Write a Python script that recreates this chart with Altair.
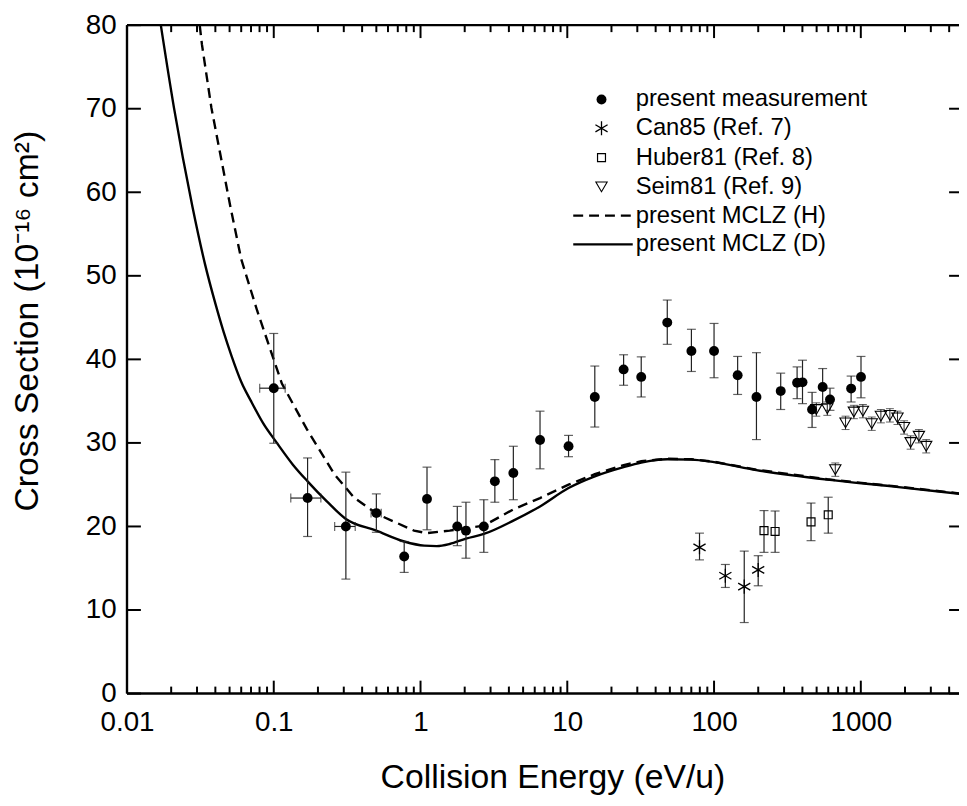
import altair as alt
import pandas as pd

# ---------------- data ----------------
# present measurement
meas_E  = [0.1, 0.170, 0.310, 0.5, 0.774, 1.107, 1.78, 2.04, 2.70, 3.21, 4.29, 6.52, 10.2, 15.4,
           24.2, 31.9, 48.0, 70.1, 100, 144.8, 194.5, 284.6, 368, 400.6, 465.5, 549.5, 616.6, 859, 1003]
meas_v  = [36.55, 23.4, 20.0, 21.6, 16.4, 23.3, 20.0, 19.5, 20.0, 25.4, 26.4, 30.35, 29.6, 35.5,
           38.8, 37.9, 44.4, 41.0, 41.0, 38.1, 35.5, 36.2, 37.2, 37.25, 34.0, 36.7, 35.2, 36.5, 37.9]
meas_lo = [29.96, 18.8, 13.7, 19.3, 14.5, 19.6, 17.7, 16.2, 16.9, 22.9, 23.2, 26.9, 28.35, 31.9,
           36.9, 35.5, 41.8, 38.55, 37.8, 35.8, 30.4, 34.0, 35.3, 34.7, 31.85, 34.6, 33.9, 34.9, 35.4]
meas_hi = [43.1, 28.2, 26.5, 23.9, 18.2, 27.1, 22.4, 22.9, 23.2, 28.0, 29.6, 33.8, 30.9, 39.2,
           40.55, 40.3, 47.1, 43.6, 44.3, 40.35, 40.8, 38.35, 39.1, 39.9, 36.05, 38.9, 36.55, 38.0, 40.35]
# horizontal error bars of the low-energy points
xerr_v  = [36.55, 23.4, 20.0, 21.6]
xerr_lo = [0.0802, 0.1306, 0.260, 0.46]
xerr_hi = [0.1196, 0.2094, 0.359, 0.54]

# Can85 (Ref. 7)
can_E  = [79.6, 119.4, 160.6, 199.9]
can_v  = [17.5, 14.1, 12.8, 14.8]
can_lo = [16.0, 12.7, 8.5, 12.9]
can_hi = [19.2, 15.45, 17.05, 16.5]

# Huber81 (Ref. 8)
hub_E  = [219, 260.6, 458, 599.8]
hub_v  = [19.5, 19.4, 20.55, 21.4]
hub_lo = [16.9, 16.9, 18.3, 19.2]
hub_hi = [21.9, 21.85, 22.8, 23.5]

# Seim81 (Ref. 9)
seim_E  = [497.6, 591, 670, 787, 897, 1033, 1187, 1370, 1578, 1778, 1972, 2185, 2488, 2790]
seim_v  = [34.0, 34.1, 26.8, 32.4, 33.7, 33.8, 32.3, 33.2, 33.3, 33.0, 31.85, 30.05, 30.8, 29.6]
seim_lo = [33.2, 33.3, 26.0, 31.6, 32.9, 33.0, 31.5, 32.4, 32.5, 32.2, 31.05, 29.25, 30.0, 28.8]
seim_hi = [34.8, 34.9, 27.6, 33.2, 34.5, 34.6, 33.1, 34.0, 34.1, 33.8, 32.65, 30.85, 31.6, 30.4]

# present MCLZ (D) - solid
d_E = [0.0170, 0.0209, 0.0279, 0.0340, 0.0402, 0.0457, 0.0516, 0.0601, 0.070, 0.085, 0.105, 0.135,
       0.17, 0.23, 0.31, 0.5, 0.774, 1.06, 1.29, 1.58, 2.04, 2.70, 4.29, 6.52, 10.2, 15.4, 24.2,
       31.9, 48, 70, 100, 194, 591, 1626, 5000]
d_v = [80.0, 70.1, 58.3, 51.4, 46.55, 43.2, 40.4, 37.3, 35.0, 32.3, 30.0, 27.4,
       25.4, 23.0, 20.9, 19.5, 18.2, 17.7, 17.65, 17.9, 18.55, 19.1, 20.7, 22.4, 24.6, 26.0, 27.1,
       27.65, 28.05, 28.0, 27.7, 26.75, 25.6, 24.8, 23.85]

# present MCLZ (H) - dashed
h_E = [0.0313, 0.0324, 0.0376, 0.0506, 0.060, 0.0770, 0.0922, 0.1136, 0.168, 0.260, 0.355, 0.511, 0.904,
       1.1, 1.58, 2.04, 2.70, 4.29, 6.52, 10.2, 15.4, 24.2, 31.9, 48, 70, 100, 194, 591, 1626, 5000]
h_v = [80.0, 77.7, 70.1, 58.3, 52.0, 45.85, 41.8, 37.1, 31.65, 26.2, 23.4, 21.45, 19.5,
       19.2, 19.5, 19.8, 20.1, 22.05, 23.4, 25.0, 26.25, 27.35, 27.8, 28.1, 28.05, 27.75, 26.8, 25.65, 24.85, 23.9]

x_major = [0.01, 0.1, 1, 10, 100, 1000]
x_minor = [m * 10 ** k for k in range(-2, 4) for m in range(2, 10) if m * 10 ** k < 5000]
y_major = [0, 10, 20, 30, 40, 50, 60, 70, 80]

legend_labels = ["present measurement", "Can85 (Ref. 7)", "Huber81 (Ref. 8)",
                 "Seim81 (Ref. 9)", "present MCLZ (H)", "present MCLZ (D)"]

# ---------------- chart ----------------
TOP = 14
W, H = 839, 674
FONT = "Liberation Sans"
INK = "black"
EB = "#222222"

xs = alt.Scale(type="log", domain=[0.01, 4667], nice=False)
ys = alt.Scale(domain=[0, 80], nice=False, zero=False)

XAX = alt.Axis(values=x_major, format="~g", ticks=False, domain=False, grid=False,
               labelFontSize=28, labelPadding=15, labelFlush=False, labelOverlap=False,
               labelFont=FONT, labelColor=INK,
               title="Collision Energy (eV/u)", titleFontSize=34, titlePadding=25,
               titleX=429, titleAlign="center", titleAnchor="start",
               titleFont=FONT, titleColor=INK, titleFontWeight="normal")
YAX = alt.Axis(values=y_major, ticks=False, domain=False, grid=False,
               labelFontSize=28, labelPadding=11, labelFlush=False, labelOverlap=False,
               labelFont=FONT, labelColor=INK,
               title="Cross Section (10⁻¹⁶ cm²)", titleFontSize=34,
               titleX=-83, titleY=320 - 8 - TOP, titleAlign="center", titleBaseline="bottom",
               titleAngle=270,
               titleFont=FONT, titleColor=INK, titleFontWeight="normal")

meas = pd.DataFrame({"E": meas_E, "v": meas_v, "lo": meas_lo, "hi": meas_hi})
xerr = pd.DataFrame({"v": xerr_v, "xlo": xerr_lo, "xhi": xerr_hi})
can = pd.DataFrame({"E": can_E, "v": can_v, "lo": can_lo, "hi": can_hi})
hub = pd.DataFrame({"E": hub_E, "v": hub_v, "lo": hub_lo, "hi": hub_hi})
seim = pd.DataFrame({"E": seim_E, "v": seim_v, "lo": seim_lo, "hi": seim_hi})
curve_d = pd.DataFrame({"E": d_E, "v": d_v})
curve_h = pd.DataFrame({"E": h_E, "v": h_v})

def X(field):
    return alt.X(f"{field}:Q", scale=xs, axis=XAX)

def Y(field):
    return alt.Y(f"{field}:Q", scale=ys, axis=YAX)

solid = alt.Chart(curve_d).mark_line(clip=True, color=INK, strokeWidth=2.4,
                                     interpolate="monotone").encode(x=X("E"), y=Y("v"))
dashed = alt.Chart(curve_h).mark_line(clip=True, color=INK, strokeWidth=2.4,
                                      strokeDash=[10, 6]).encode(x=X("E"), y=Y("v"))

def errorbars(df, cap=9, width=1.2):
    bar = alt.Chart(df).mark_rule(color=EB, strokeWidth=width).encode(x=X("E"), y=Y("lo"), y2="hi")
    c1 = alt.Chart(df).mark_tick(orient="horizontal", size=cap, thickness=width, color=EB).encode(
        x=X("E"), y=Y("lo"))
    c2 = alt.Chart(df).mark_tick(orient="horizontal", size=cap, thickness=width, color=EB).encode(
        x=X("E"), y=Y("hi"))
    return [bar, c1, c2]

xbar = alt.Chart(xerr).mark_rule(color=EB, strokeWidth=1.2).encode(x=X("xlo"), x2="xhi", y=Y("v"))
xc1 = alt.Chart(xerr).mark_tick(orient="vertical", size=9, thickness=1.2, color=EB).encode(
    x=X("xlo"), y=Y("v"))
xc2 = alt.Chart(xerr).mark_tick(orient="vertical", size=9, thickness=1.2, color=EB).encode(
    x=X("xhi"), y=Y("v"))

STAR = "M0,-1L0,1M-0.866,-0.5L0.866,0.5M-0.866,0.5L0.866,-0.5"

meas_pts = alt.Chart(meas).mark_point(shape="circle", filled=True, size=100, color=INK,
                                      opacity=1).encode(x=X("E"), y=Y("v"))
can_pts = alt.Chart(can).mark_point(shape=STAR, filled=False, size=200, stroke=INK,
                                    strokeWidth=1.3, opacity=1).encode(x=X("E"), y=Y("v"))
hub_pts = alt.Chart(hub).mark_point(shape="square", filled=False, size=64, stroke=INK,
                                    strokeWidth=1.2, opacity=1).encode(x=X("E"), y=Y("v"))
seim_pts = alt.Chart(seim).mark_point(shape="triangle-down", filled=False, size=130, stroke=INK,
                                      strokeWidth=1.1, opacity=1).encode(x=X("E"), y=Y("v"))

# frame ticks (inward), drawn through the x / y scales
tx_major = pd.DataFrame({"E": x_major})
tx_minor = pd.DataFrame({"E": x_minor})
ty_major = pd.DataFrame({"v": y_major})

def xticks(df, length):
    bot = alt.Chart(df).mark_rule(color=INK, strokeWidth=2).encode(
        x=X("E"), y=alt.value(H), y2=alt.value(H - length))
    top = alt.Chart(df).mark_rule(color=INK, strokeWidth=2).encode(
        x=X("E"), y=alt.value(0), y2=alt.value(length))
    return [bot, top]

yt_left = alt.Chart(ty_major).mark_rule(color=INK, strokeWidth=2).encode(
    y=Y("v"), x=alt.value(0), x2=alt.value(14))
yt_right = alt.Chart(ty_major).mark_rule(color=INK, strokeWidth=2).encode(
    y=Y("v"), x=alt.value(W + 4), x2=alt.value(W - 10))

one = pd.DataFrame({"a": [0]})
# frame lines: left, bottom, top (right one lies just outside the picture)
frame = [
    alt.Chart(one).mark_rule(color=INK, strokeWidth=2.4).encode(
        x=alt.value(0), y=alt.value(0), y2=alt.value(H)),
    alt.Chart(one).mark_rule(color=INK, strokeWidth=2.4).encode(
        x=alt.value(0), x2=alt.value(W), y=alt.value(H)),
    alt.Chart(one).mark_rule(color=INK, strokeWidth=2.4).encode(
        x=alt.value(0), x2=alt.value(W), y=alt.value(0)),
]

# legend (drawn manually), rows in page pixels minus the plot origin
LX_SYM = 478.5
LX_TXT = 513
rows = [r - 8 - TOP for r in [97, 126, 155.5, 185, 214, 243]]
leg = []
for lab, ry in zip(legend_labels, rows):
    leg.append(alt.Chart(one).mark_text(align="left", baseline="middle", font=FONT, fontSize=24,
                                        color=INK, text=lab).encode(x=alt.value(LX_TXT), y=alt.value(ry)))
leg.append(alt.Chart(one).mark_point(shape="circle", filled=True, size=100, color=INK, opacity=1)
           .encode(x=alt.value(LX_SYM), y=alt.value(rows[0])))
leg.append(alt.Chart(one).mark_point(shape=STAR, filled=False, size=200, stroke=INK, strokeWidth=1.3,
                                     opacity=1).encode(x=alt.value(LX_SYM), y=alt.value(rows[1])))
leg.append(alt.Chart(one).mark_point(shape="square", filled=False, size=64, stroke=INK, strokeWidth=1.2,
                                     opacity=1).encode(x=alt.value(LX_SYM), y=alt.value(rows[2])))
leg.append(alt.Chart(one).mark_point(shape="triangle-down", filled=False, size=130, stroke=INK,
                                     strokeWidth=1.1, opacity=1)
           .encode(x=alt.value(LX_SYM), y=alt.value(rows[3])))
leg.append(alt.Chart(one).mark_rule(color=INK, strokeWidth=2.4, strokeDash=[10, 6]).encode(
    x=alt.value(450), x2=alt.value(510), y=alt.value(rows[4])))
leg.append(alt.Chart(one).mark_rule(color=INK, strokeWidth=2.4).encode(
    x=alt.value(450), x2=alt.value(510), y=alt.value(rows[5])))

layers = ([solid, dashed]
          + errorbars(meas) + errorbars(can) + errorbars(hub) + errorbars(seim, cap=8, width=1.0)
          + [xbar, xc1, xc2]
          + xticks(tx_major, 13) + xticks(tx_minor, 7) + [yt_left, yt_right]
          + frame
          + [seim_pts, hub_pts, can_pts, meas_pts]
          + leg)

chart = alt.layer(*layers).properties(
    width=W, height=H,
    background="white",
    autosize=alt.AutoSizeParams(type="none"),
    padding={"left": 120, "top": TOP, "right": 0, "bottom": 102},
).configure_view(stroke=None)

chart.save("out.html", embed_options={"renderer": "svg", "actions": False})
